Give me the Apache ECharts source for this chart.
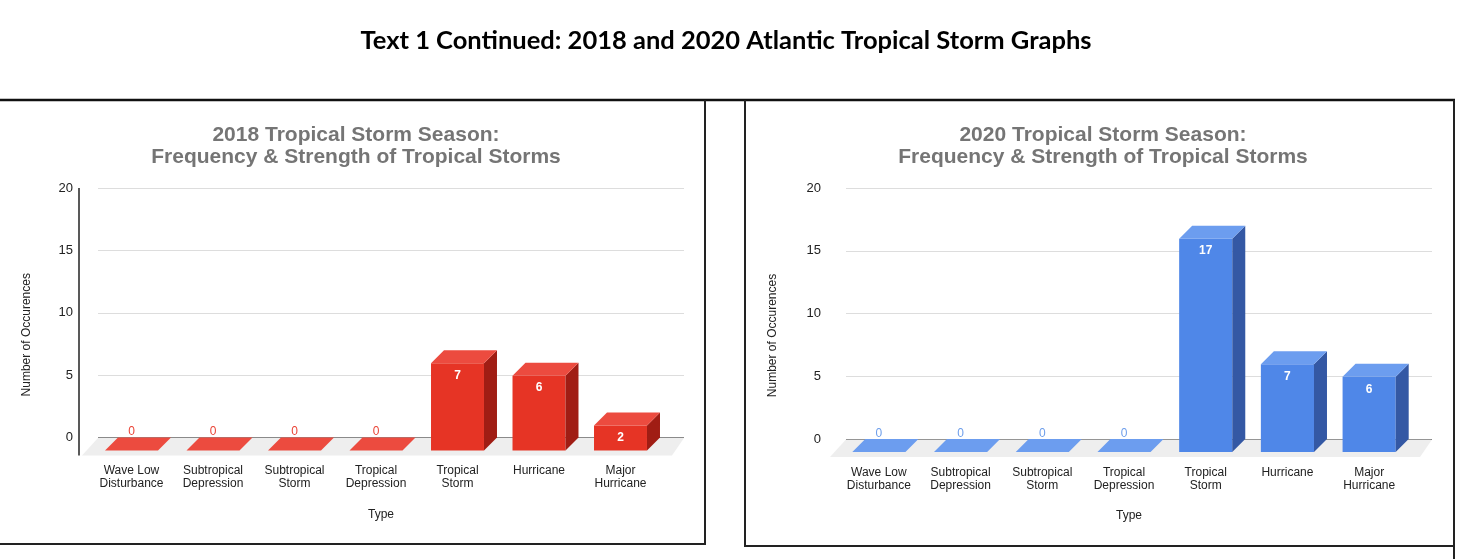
<!DOCTYPE html>
<html style="height: 100%">
<head>
<meta charset="utf-8">
</head>
<body style="height: 100%; margin: 0; background: #fff">
	<div id="container" style="width: 1472px; height: 559px"></div>

	<script src="https://cdn.jsdelivr.net/npm/echarts@6/dist/echarts.min.js"></script>
	<script type="text/javascript">
		// categories and values
		var typeLabels = ['Wave Low\nDisturbance', 'Subtropical\nDepression', 'Subtropical\nStorm',
			'Tropical\nDepression', 'Tropical\nStorm', 'Hurricane', 'Major\nHurricane'];
		var counts2018 = [0, 0, 0, 0, 7, 6, 2];
		var counts2020 = [0, 0, 0, 0, 17, 7, 6];
		var yMin = 0, yMax = 20, yStep = 5;

		var pageTitle = 'Text 1 Continued: 2018 and 2020 Atlantic Tropical Storm Graphs';
		var chartTitles = [
			'2018 Tropical Storm Season:\nFrequency & Strength of Tropical Storms',
			'2020 Tropical Storm Season:\nFrequency & Strength of Tropical Storms'
		];
		var xName = 'Type';
		var yName = 'Number of Occurences';

		// layout / style per panel
		var panels = [
			{
				values: counts2018, titleX: 356,
				barLeft: 103.75, barWidth: 570.5, lineLeft: 98, lineWidth: 586,
				top: 188, height: 249.5, yNameGap: 71, axisLine: true, zero: '#8a8a8a',
				front: '#e63425', top3d: '#ec4b3f', side: '#a01d14', zeroLabel: '#ea4335'
			},
			{
				values: counts2020, titleX: 1103,
				barLeft: 851, barWidth: 572, lineLeft: 846, lineWidth: 586,
				top: 188, height: 251, yNameGap: 73, axisLine: false, zero: '#3c3c3c',
				front: '#4f87e8', top3d: '#6c9def', side: '#3458a4', zeroLabel: '#6d9eeb'
			}
		];

		var DEPTH = 13;
		var FONT = '"Liberation Sans", Arial, sans-serif';

		function barRenderer(p) {
			return function (params, api) {
				var i = api.value(0), v = api.value(1);
				var tp = api.coord([i, v]);
				var base = api.coord([i, 0]);
				var w = api.size([1, 0])[0] * 0.65;
				var fx = tp[0] - DEPTH - w / 2;
				var ft = tp[1] + DEPTH;
				var fb = base[1] + DEPTH;
				var kids = [];
				if (v > 0) {
					kids.push({ type: 'rect', shape: { x: fx, y: ft, width: w, height: fb - ft }, style: { fill: p.front } });
					kids.push({ type: 'polygon', shape: { points: [[fx + w, ft], [fx + w + DEPTH, ft - DEPTH], [fx + w + DEPTH, fb - DEPTH], [fx + w, fb]] }, style: { fill: p.side } });
				}
				kids.push({ type: 'polygon', shape: { points: [[fx, ft], [fx + w, ft], [fx + w + DEPTH, ft - DEPTH], [fx + DEPTH, ft - DEPTH]] }, style: { fill: p.top3d } });
				kids.push({
					type: 'text', x: fx + w / 2, y: v > 0 ? ft + 12.5 : base[1] - 5.5,
					style: {
						text: String(v), fill: v > 0 ? '#ffffff' : p.zeroLabel,
						font: (v > 0 ? 'bold ' : '') + '12px ' + FONT,
						align: 'center', verticalAlign: 'middle', textAlign: 'center', textVerticalAlign: 'middle'
					}
				});
				return { type: 'group', children: kids };
			};
		}

		function floorRenderer(p) {
			return function (params, api) {
				var cs = params.coordSys;
				var y0 = api.coord([0, 0])[1];
				var kids = [{
					type: 'polygon',
					shape: { points: [[cs.x, y0 + 0.5], [cs.x + cs.width, y0 + 0.5], [cs.x + cs.width - 12, y0 + 18], [cs.x - 16, y0 + 18]] },
					style: { fill: '#eeeeee' }
				}];
				if (p.axisLine) {
					kids.push({ type: 'line', shape: { x1: cs.x - 19, y1: cs.y, x2: cs.x - 19, y2: y0 + 18 }, style: { stroke: '#222', lineWidth: 1.5 } });
				}
				return { type: 'group', children: kids };
			};
		}

		var dom = document.getElementById('container');
		var myChart = echarts.init(dom);

		var option = {
			backgroundColor: '#fff',
			animation: false,
			title: [{
				text: pageTitle, left: 726, top: 27, padding: 0, textAlign: 'center',
				textStyle: { fontFamily: 'Lato, "Open Sans", sans-serif', fontWeight: 'bold', fontSize: 25.5, lineHeight: 28, color: '#000' }
			}],
			grid: [], xAxis: [], yAxis: [], series: [],
			graphic: [
				{ type: 'line', shape: { x1: 0, y1: 100, x2: 1455, y2: 100 }, style: { stroke: '#111', lineWidth: 2.5 } },
				{ type: 'polyline', shape: { points: [[705, 100], [705, 544], [0, 544]] }, style: { stroke: '#222', lineWidth: 2, fill: null } },
				{ type: 'polyline', shape: { points: [[745, 100], [745, 546], [1454, 546]] }, style: { stroke: '#222', lineWidth: 2, fill: null } },
				{ type: 'line', shape: { x1: 1454, y1: 100, x2: 1454, y2: 559 }, style: { stroke: '#222', lineWidth: 2 } }
			]
		};

		panels.forEach(function (p, k) {
			var ga = 2 * k, gb = 2 * k + 1;
			option.title.push({
				text: chartTitles[k], left: p.titleX, top: 124, padding: 0, textAlign: 'center',
				textStyle: { fontFamily: FONT, fontWeight: 'bold', fontSize: 21, lineHeight: 22, color: '#757575', align: 'center' }
			});
			option.grid.push({ left: p.barLeft, width: p.barWidth, top: p.top, height: p.height });
			option.grid.push({ left: p.lineLeft, width: p.lineWidth, top: p.top, height: p.height });

			option.xAxis.push({
				type: 'category', gridIndex: ga, data: typeLabels,
				axisLine: { show: false }, axisTick: { show: false },
				axisLabel: { interval: 0, margin: 27, color: '#222', fontFamily: FONT, fontSize: 12, lineHeight: 13, padding: [0, 26, 0, 0] },
				name: xName, nameLocation: 'middle', nameGap: 77,
				nameTextStyle: { color: '#222', fontFamily: FONT, fontSize: 12, verticalAlign: 'middle', padding: [0, 16, 0, 0] }
			});
			option.xAxis.push({ type: 'value', gridIndex: gb, min: 0, max: 1, show: false });

			option.yAxis.push({ type: 'value', gridIndex: ga, min: yMin, max: yMax, interval: yStep, show: false });
			option.yAxis.push({
				type: 'value', gridIndex: gb, min: yMin, max: yMax, interval: yStep,
				axisLine: { show: false }, axisTick: { show: false },
				axisLabel: { margin: 25, color: '#222', fontFamily: FONT, fontSize: 13 },
				splitLine: { lineStyle: { color: [p.zero, '#dddddd', '#dddddd', '#dddddd', '#dddddd'], width: 1.2 } },
				name: yName, nameLocation: 'middle', nameGap: p.yNameGap,
				nameTextStyle: { color: '#222', fontFamily: FONT, fontSize: 12, verticalAlign: 'middle', padding: [0, 44, 0, 0] }
			});

			option.series.push({
				type: 'custom', xAxisIndex: gb, yAxisIndex: gb, z: 1, silent: true,
				renderItem: floorRenderer(p), data: [[0, 0]]
			});
			option.series.push({
				type: 'custom', xAxisIndex: ga, yAxisIndex: ga, z: 2, silent: true,
				renderItem: barRenderer(p),
				encode: { x: 0, y: 1 },
				data: p.values.map(function (v, i) { return [i, v]; })
			});
		});

		myChart.setOption(option);
	</script>
</body>
</html>
